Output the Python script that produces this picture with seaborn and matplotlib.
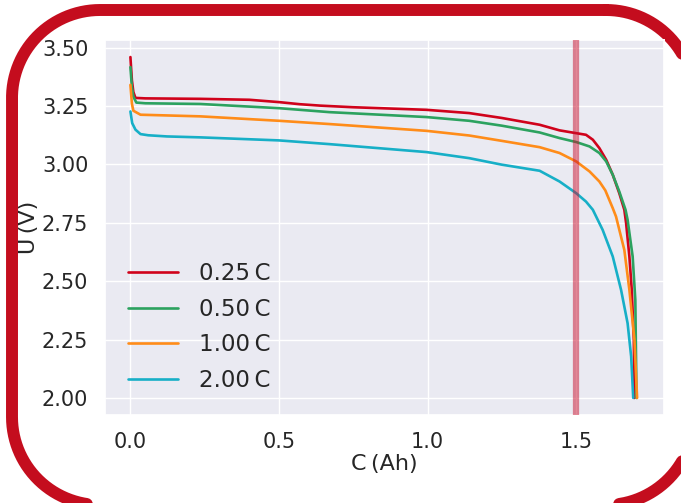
import matplotlib
matplotlib.use("Agg")
import matplotlib.pyplot as plt
import numpy as np
import pandas as pd
import seaborn as sns

sns.set_theme(style="darkgrid")
plt.rcParams['font.family'] = ['DejaVu Sans']

# discharge curves
rates = ["0.25\u2009C", "0.50\u2009C", "1.00\u2009C", "2.00\u2009C"]
colors = ["#d0021b", "#2ca25f", "#ff8c19", "#17afc7"]

c_025 = [0, 0.005, 0.01, 0.017, 0.05, 0.235, 0.40, 0.50, 0.57, 0.638, 0.75, 0.996, 1.14, 1.25,
         1.377, 1.444, 1.5, 1.533, 1.556, 1.578, 1.601, 1.623, 1.645, 1.662, 1.668, 1.679,
         1.687, 1.694, 1.696]
u_025 = [3.46, 3.36, 3.31, 3.285, 3.283, 3.281, 3.277, 3.267, 3.258, 3.252, 3.245, 3.234, 3.22, 3.199,
         3.17, 3.146, 3.134, 3.127, 3.106, 3.07, 3.02, 2.956, 2.877, 2.806, 2.749, 2.606,
         2.463, 2.249, 2.0]

c_050 = [0, 0.005, 0.01, 0.02, 0.05, 0.235, 0.5, 0.67, 0.996, 1.14, 1.25, 1.377, 1.444, 1.5,
         1.545, 1.578, 1.601, 1.623, 1.645, 1.666, 1.673, 1.690, 1.699, 1.703]
u_050 = [3.417, 3.33, 3.29, 3.265, 3.262, 3.259, 3.241, 3.224, 3.203, 3.187, 3.166, 3.137, 3.113, 3.096,
         3.077, 3.049, 3.013, 2.956, 2.884, 2.806, 2.763, 2.606, 2.42, 2.0]

c_100 = [0, 0.005, 0.01, 0.034, 0.235, 0.5, 0.67, 0.996, 1.14, 1.25, 1.377, 1.444, 1.5,
         1.545, 1.578, 1.598, 1.623, 1.634, 1.662, 1.679, 1.696, 1.705]
u_100 = [3.341, 3.26, 3.23, 3.213, 3.206, 3.187, 3.173, 3.144, 3.124, 3.101, 3.074, 3.049, 3.013,
         2.97, 2.927, 2.889, 2.813, 2.777, 2.634, 2.463, 2.249, 2.0]

c_200 = [0, 0.006, 0.017, 0.034, 0.06, 0.123, 0.235, 0.5, 0.67, 0.996, 1.14, 1.25, 1.377, 1.444,
         1.5, 1.533, 1.556, 1.589, 1.623, 1.651, 1.673, 1.685, 1.692]
u_200 = [3.227, 3.177, 3.149, 3.13, 3.125, 3.12, 3.116, 3.103, 3.087, 3.053, 3.027, 2.999, 2.973, 2.927,
         2.877, 2.841, 2.806, 2.72, 2.606, 2.463, 2.32, 2.177, 2.0]

marker_c = 1.5

df = pd.concat([
    pd.DataFrame({'C': c, 'U': u, 'rate': r})
    for c, u, r in zip([c_025, c_050, c_100, c_200], [u_025, u_050, u_100, u_200], rates)
])

fig = plt.figure(figsize=(6.81, 5.03), dpi=100)
ax = fig.add_axes([105 / 681, 88 / 503, 559 / 681, 375 / 503])

sns.lineplot(data=df, x='C', y='U', hue='rate', palette=colors, estimator=None,
             sort=False, linewidth=1.9, ax=ax)
ax.axvline(marker_c, color="#c8102e", alpha=0.5, linewidth=4.5, zorder=5)

ax.set_xlim(-0.0855, 1.7955)
ax.set_ylim(1.927, 3.533)
ax.set_xticks([0.0, 0.5, 1.0, 1.5])
ax.set_yticks([2.0, 2.25, 2.5, 2.75, 3.0, 3.25, 3.5])
ax.tick_params(labelsize=15, pad=6)
ax.set_xlabel("C\u2009(Ah)", fontsize=16, labelpad=2)
ax.set_ylabel("U\u2009(V)", fontsize=16, labelpad=2)
ax.legend(loc='lower left', frameon=False, fontsize=16.5, handlelength=2.2,
          handletextpad=0.9, labelspacing=0.55, borderaxespad=0.6)


def rounded_rect(x0, y0, x1, y1, r, n=60):
    # outline in pixel rows (y down); polyline so clipping at the canvas edge stays clean
    parts = []
    for cx, cy, a0 in [(x1 - r, y0 + r, -90), (x1 - r, y1 - r, 0),
                       (x0 + r, y1 - r, 90), (x0 + r, y0 + r, 180)]:
        t = np.radians(np.linspace(a0, a0 + 90, n))
        parts.append(np.c_[cx + r * np.cos(t), cy + r * np.sin(t)])
    pts = np.vstack(parts + [parts[0][:1]])
    return pts[:, 0], pts[:, 1]


# rounded red frame around the whole figure (partly cut off on the right and bottom)
frame = fig.add_axes([0, 0, 1, 1], zorder=-1)
frame.set_xlim(0, 681)
frame.set_ylim(503, 0)
frame.axis('off')
fx, fy = rounded_rect(12, 10, 694, 505, 88)
frame.plot(fx, fy, color="#c40d1e", linewidth=8.6, solid_joinstyle='round')

fig.savefig("out.png", dpi=100)
